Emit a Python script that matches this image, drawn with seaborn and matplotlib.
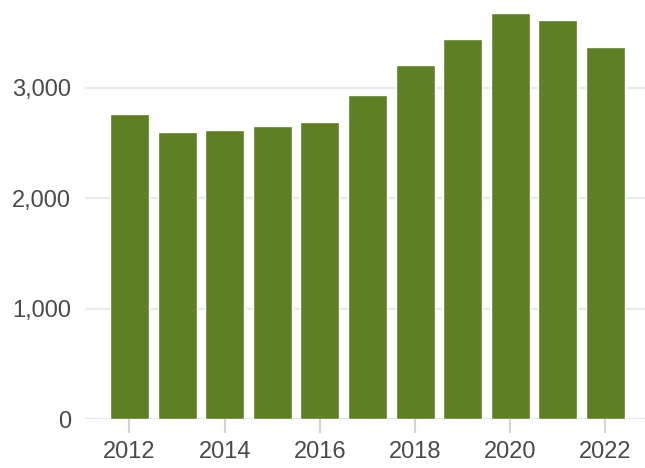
import matplotlib
matplotlib.use("Agg")
import matplotlib.pyplot as plt
import seaborn as sns
import pandas as pd
from matplotlib.ticker import FuncFormatter

# Annual totals, 2012-2022
years = [2012, 2013, 2014, 2015, 2016, 2017, 2018, 2019, 2020, 2021, 2022]
values = [2760, 2597, 2615, 2652, 2688, 2932, 3204, 3439, 3674, 3611, 3367]
tick_years = [2012, 2014, 2016, 2018, 2020, 2022]
y_ticks = [0, 1000, 2000, 3000]

df = pd.DataFrame({"year": [str(y) for y in years], "value": values})

sns.set_theme(style="white")
plt.rcParams["font.family"] = ["Liberation Sans", "DejaVu Sans"]

fig = plt.figure(figsize=(6.45, 4.68), dpi=100)
ax = fig.add_axes([85 / 645, 49 / 468, 1 - 85 / 645, 1 - 49 / 468])

sns.barplot(data=df, x="year", y="value", color="#5e7f24", saturation=1,
            width=0.82, ax=ax, zorder=3)

ax.set_xlim(-0.933, 10.83)
ax.set_ylim(0, 3792)

ax.set_yticks(y_ticks)
ax.yaxis.set_major_formatter(FuncFormatter(lambda v, p: f"{int(v):,}"))
ax.grid(axis="y", color="#ebebeb", linewidth=1.6, zorder=0)
ax.grid(axis="x", visible=False)
ax.set_axisbelow(True)

pos = [years.index(y) for y in tick_years]
ax.set_xticks(pos)
ax.set_xticklabels([str(y) for y in tick_years])

ax.tick_params(axis="x", length=10, width=1.6, color="#d4d4d4", pad=6,
               labelsize=17, labelcolor="#4a4a4a", bottom=True)
ax.tick_params(axis="y", length=0, pad=10, labelsize=17, labelcolor="#4a4a4a")

for s in ax.spines.values():
    s.set_visible(False)
ax.set_xlabel("")
ax.set_ylabel("")

fig.savefig("out.png", dpi=100)
